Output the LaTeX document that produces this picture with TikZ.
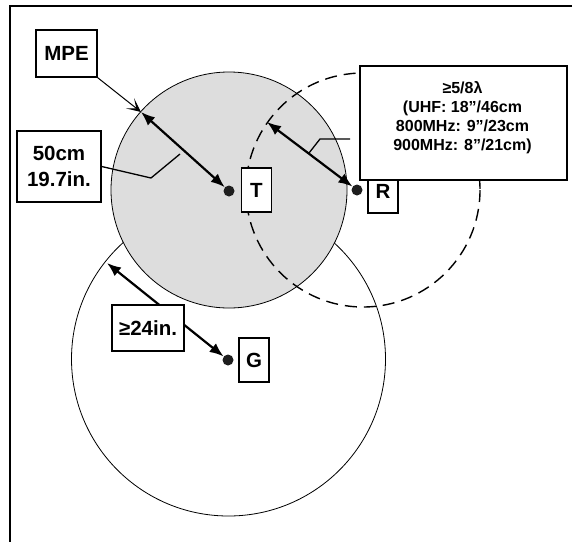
\documentclass[tikz,border=0pt]{standalone}
\usepackage{fontspec}
\setmainfont{Liberation Sans}
\usetikzlibrary{arrows.meta}
\definecolor{zonegray}{RGB}{221,221,221}
\definecolor{dotcol}{RGB}{30,30,30}
\begin{document}
\begin{tikzpicture}[x=1pt,y=-1pt,
  labelbox/.style={draw, line width=1.4pt, fill=white, inner sep=0pt, font=\bfseries\fontsize{20.5}{26}\selectfont, align=center},
  smallbox/.style={labelbox, minimum width=30pt, minimum height=44pt},
  spotdot/.style={circle, fill=dotcol, minimum size=11pt, inner sep=0pt},
  dimarrow/.style={line width=2.2pt, {Latex[length=14pt,width=11pt]}-{Latex[length=14pt,width=11pt]}},
  leader/.style={line width=1pt},
  zone/.style={line width=0.8pt}]
\useasboundingbox (0,0) rectangle (577,541);
\begin{scope}
\clip (0,0) rectangle (577,541);
\draw[line width=2pt] (572,6) -- (10,6) -- (10,545);
\end{scope}
% zones
\draw[zone, fill=white] (228.5,359) circle[radius=157];
\draw[zone, fill=zonegray] (229,190) circle[radius=118];
\draw[line width=1.4pt, dash pattern=on 12pt off 7pt] (363,190) circle[radius=117];
% dots
\node[spotdot] (Tdot) at (229,191) {};
\node[spotdot] (Rdot) at (357,190) {};
\node[spotdot] (Gdot) at (228,360) {};
% edge points
\coordinate (mpeEdge) at (141,112);
\coordinate (rEdge) at (267,122);
\coordinate (gEdge) at (107,263);
\coordinate (cmEnd) at (180,154);
\coordinate (cmBend) at (151,178);
\coordinate (lamBend) at (320,139);
\coordinate (lamEnd) at (309,153);
\coordinate (lamStart) at (350,139);
% arrows
\draw[dimarrow] (mpeEdge) -- (Tdot);
\draw[dimarrow] (rEdge) -- (Rdot);
\draw[dimarrow] (gEdge) -- (Gdot);
% boxes
\node[labelbox, minimum width=61pt, minimum height=47pt] (mpe) at (66.5,53.5) {MPE};
\node[labelbox, minimum width=84pt, minimum height=71pt] (cm) at (59,166.5) {50cm\\19.7in.};
\node[labelbox, minimum width=72pt, minimum height=46pt] (inch) at (148,328) {≥24in.};
\node[smallbox] (Tbox) at (256.5,190) {T};
\node[smallbox] (Rbox) at (383,191) {R};
\node[smallbox] (Gbox) at (254,360) {G};
\node[labelbox, minimum width=207pt, minimum height=114pt] (lam) at (463.5,123) {};
\node[font=\bfseries\fontsize{16}{19}\selectfont, align=center, inner sep=0pt] (lamtext) at (462.5,118) {≥5/8λ\\(UHF: 18\symbol{34}/46cm\\800MHz: 9\symbol{34}/23cm\\900MHz: 8”/21cm)};
% leaders
\draw[leader, -{Stealth[length=14pt,width=13pt,inset=8pt]}] (mpe.south east) -- (mpeEdge);
\draw[leader, line width=1.3pt] (cm.east) -- (cmBend) -- (cmEnd);
\draw[leader, line width=1.3pt] (lamStart) -- (lamBend) -- (lamEnd);
\end{tikzpicture}
\end{document}
